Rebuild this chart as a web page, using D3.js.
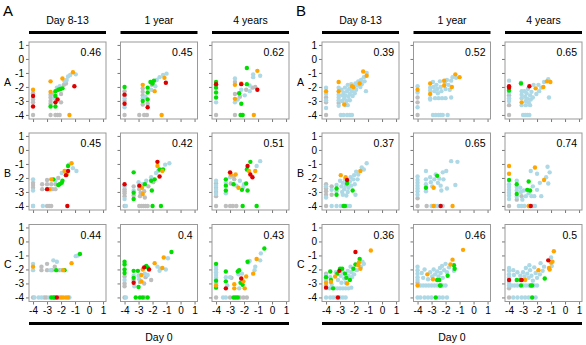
<!DOCTYPE html>
<html>
<head>
<meta charset="utf-8">
<script src="https://cdn.jsdelivr.net/npm/d3@7"></script>
<style>
  body { margin: 0; background: #fff; }
  svg { display: block; font-family: "Liberation Sans", Arial, sans-serif; }
</style>
</head>
<body>
<svg id="chart" width="586" height="345"></svg>
<script>
// labels
const panelLetters = ["A", "B"];
const rowLabels = ["A", "B", "C"];
const colLabels = ["Day 8-13", "1 year", "4 years"];
const xTicks = [-4, -3, -2, -1, 0, 1];
const yTicks = [1, 0, -1, -2, -3, -4];
const xTitle = "Day 0";

// correlation shown in each panel (rows A,B,C x columns)
const corrA = [[0.46, 0.45, 0.62], [0.45, 0.42, 0.51], [0.44, 0.4, 0.43]];
const corrB = [[0.39, 0.52, 0.65], [0.37, 0.65, 0.74], [0.36, 0.46, 0.5]];

// point colours: g grey, b light blue, n green, o orange, r red
const colorKeys = ["g", "b", "n", "o", "r"];
const colorVals = ["#bebebe", "#add8e6", "#00dd00", "#ffa500", "#dd0000"];

// ---- panel A points [day0, later, colour] ----
const A_rowA_d8 = [[-4,-2.2,"o"],[-4,-2.45,"g"],[-4,-2.65,"r"],[-4,-2.9,"g"],[-4,-3.1,"g"],[-4,-3.4,"r"],[-4,-4,"g"],
  [-2.75,-1.6,"o"],[-2.75,-2.35,"o"],[-2.75,-2.55,"g"],[-2.75,-2.75,"g"],[-2.75,-3.0,"g"],[-2.75,-3.2,"g"],[-2.75,-3.4,"n"],[-2.75,-4,"g"],
  [-2.4,-2.3,"n"],[-2.4,-2.65,"n"],[-2.4,-3.1,"r"],[-2.4,-3.4,"n"],[-2.4,-4,"g"],[-2.25,-4,"g"],[-2.1,-4,"g"],
  [-2.2,-2.2,"n"],[-2.05,-2.15,"n"],[-1.9,-2.1,"n"],[-2.25,-2.9,"r"],[-2.0,-3.1,"g"],[-2.5,-2.8,"b"],[-2.5,-2.5,"g"],
  [-1.9,-1.4,"o"],[-1.75,-1.6,"b"],[-1.6,-1.5,"b"],[-1.5,-1.25,"b"],[-1.35,-1.15,"b"],[-1.65,-1.75,"g"],[-1.8,-1.85,"g"],
  [-0.95,-1.1,"b"],[-1.15,-0.95,"o"],[-1.05,-1.95,"r"],[-1.4,-4,"o"],[-2.1,-1.95,"b"],[-2.3,-2.05,"b"],[-2.0,-2.5,"g"]];
const A_rowA_1y = [[-4,-2.0,"n"],[-4,-2.3,"g"],[-4,-2.55,"r"],[-4,-2.8,"b"],[-4,-3.2,"r"],[-4,-3.45,"b"],[-4,-4,"g"],[-4,-2.6,"g"],[-4,-3.0,"g"],
  [-2.7,-1.85,"o"],[-2.7,-2.1,"g"],[-2.7,-2.35,"g"],[-2.7,-2.6,"g"],[-2.7,-3.0,"n"],[-2.7,-3.25,"g"],[-2.7,-2.8,"b"],
  [-2.35,-2.05,"n"],[-2.35,-2.4,"n"],[-2.35,-2.9,"n"],[-2.35,-3.45,"r"],[-2.35,-3.2,"g"],[-2.5,-2.7,"b"],
  [-2.15,-1.65,"n"],[-2.0,-1.75,"n"],[-2.05,-1.85,"g"],[-1.85,-2.3,"o"],[-1.9,-1.55,"n"],[-1.7,-1.5,"b"],[-1.5,-1.3,"b"],
  [-1.25,-1.15,"b"],[-1.0,-1.05,"b"],[-1.15,-1.35,"o"],[-1.05,-1.7,"r"],[-1.8,-1.95,"b"],[-2.1,-2.2,"b"],
  [-2.95,-4,"g"],[-2.6,-4,"g"],[-2.4,-4,"g"],[-1.35,-4,"o"]];
const A_rowA_4y = [[-4,-1.65,"n"],[-4,-1.8,"r"],[-4,-2.05,"n"],[-4,-2.4,"n"],[-4,-2.75,"n"],[-4,-3.1,"b"],[-4,-1.9,"b"],[-4,-4,"g"],
  [-2.65,-1.4,"b"],[-2.65,-1.65,"g"],[-2.65,-1.85,"o"],[-2.65,-2.5,"g"],[-2.65,-2.85,"o"],[-2.65,-3.1,"b"],[-2.65,-4,"g"],
  [-2.2,-1.75,"o"],[-2.2,-1.8,"r"],[-2.35,-2.45,"n"],[-2.2,-2.2,"b"],[-2.2,-3.2,"n"],[-2.25,-4,"n"],[-2.1,-4,"n"],[-2.45,-2.9,"b"],[-2.3,-2.7,"g"],
  [-1.8,-0.65,"n"],[-1.8,-1.8,"n"],[-1.85,-2.2,"g"],[-1.95,-2.6,"b"],[-1.6,-2.3,"b"],[-1.6,-1.9,"b"],
  [-1.35,-1.1,"b"],[-1.35,-1.3,"b"],[-1.4,-2.05,"g"],[-1.3,-4,"o"],[-1.05,-0.85,"o"],[-0.85,-1.2,"b"],[-1.05,-2.2,"r"],[-1.2,-2.0,"g"]];
const A_rowB_d8 = [[-4,-2.1,"b"],[-4,-2.35,"g"],[-4,-2.5,"g"],[-4,-2.7,"g"],[-4,-2.9,"b"],[-4,-4,"g"],
  [-3.35,-2.45,"g"],[-3.35,-2.8,"g"],[-3.0,-2.15,"g"],[-3.0,-2.45,"g"],[-3.0,-2.8,"r"],[-2.85,-2.8,"o"],[-2.75,-2.8,"g"],[-2.6,-2.8,"g"],[-2.4,-2.8,"g"],
  [-2.7,-2.1,"o"],[-2.55,-2.1,"n"],[-2.7,-2.45,"g"],[-2.4,-2.45,"g"],[-2.4,-2.2,"b"],[-2.2,-2.0,"g"],[-2.1,-2.45,"n"],[-1.95,-2.35,"n"],[-1.9,-2.2,"n"],[-2.2,-2.5,"n"],
  [-1.95,-1.65,"b"],[-1.75,-1.5,"o"],[-1.65,-1.8,"r"],[-1.6,-1.75,"o"],[-1.5,-1.15,"n"],[-1.5,-1.5,"r"],[-1.45,-1.05,"b"],[-1.25,-0.95,"o"],[-1.15,-1.3,"b"],[-0.9,-1.5,"b"],
  [-4,-4,"b"],[-3.3,-4,"b"],[-3.0,-4,"g"],[-2.85,-4,"g"],[-2.7,-4,"g"],[-1.55,-4,"r"]];
const A_rowB_1y = [[-4,-2.45,"r"],[-4,-2.6,"b"],[-4,-2.8,"g"],[-4,-2.95,"g"],[-4,-3.1,"g"],[-4,-3.3,"g"],[-4,-3.5,"b"],[-4,-4,"g"],
  [-3.35,-1.6,"n"],[-3.35,-2.6,"g"],[-3.35,-2.9,"b"],[-3.35,-3.05,"n"],[-3.35,-3.25,"g"],[-3.35,-3.5,"n"],
  [-2.95,-2.55,"r"],[-3.0,-2.3,"b"],[-2.95,-2.8,"g"],[-2.85,-3.05,"g"],[-2.9,-3.3,"g"],[-2.75,-2.7,"o"],[-2.7,-3.15,"o"],[-2.7,-2.45,"b"],[-2.6,-2.95,"g"],[-2.55,-3.4,"g"],
  [-2.55,-2.45,"n"],[-2.45,-2.2,"b"],[-2.3,-2.6,"g"],[-2.1,-2.2,"n"],[-2.1,-1.95,"b"],[-1.85,-2.1,"n"],[-2.05,-2.9,"n"],[-1.95,-2.3,"g"],
  [-1.75,-1.65,"b"],[-1.5,-1.4,"n"],[-1.6,-1.5,"b"],[-1.65,-1.15,"o"],[-1.65,-0.85,"r"],[-1.3,-1.5,"o"],[-1.25,-1.4,"n"],[-1.5,-1.9,"r"],[-1.1,-1.05,"b"],[-0.8,-0.95,"b"],
  [-3.9,-4,"b"],[-2.95,-4,"g"],[-2.8,-4,"g"],[-2.65,-4,"g"],[-2.5,-4,"g"],[-2.35,-4,"g"],[-2.0,-4,"n"],[-1.4,-4,"n"]];
const A_rowB_4y = [[-4,-2.2,"b"],[-4,-2.4,"g"],[-4,-2.55,"b"],[-4,-2.7,"g"],[-4,-2.85,"b"],[-4,-3.0,"g"],[-4,-3.15,"b"],[-4,-3.3,"g"],[-4,-4,"g"],
  [-3.3,-2.1,"n"],[-3.3,-2.35,"b"],[-3.3,-2.55,"n"],[-3.3,-2.9,"n"],[-3.3,-3.1,"b"],
  [-3.0,-1.6,"r"],[-2.95,-1.75,"o"],[-3.0,-1.95,"b"],[-2.95,-2.4,"g"],[-2.75,-1.9,"g"],[-2.6,-1.75,"o"],[-2.7,-2.1,"g"],[-2.75,-2.45,"n"],[-2.55,-2.55,"b"],[-2.4,-2.7,"o"],[-2.3,-2.2,"b"],[-2.15,-2.85,"n"],[-2.0,-2.45,"b"],
  [-1.8,-1.4,"n"],[-1.75,-1.15,"r"],[-1.65,-1.5,"o"],[-1.55,-0.85,"n"],[-1.55,-1.75,"r"],[-1.4,-1.95,"r"],[-1.2,-1.5,"o"],[-0.85,-0.8,"b"],[-1.1,-1.15,"b"],[-1.85,-2.4,"n"],[-1.75,-2.9,"n"],[-2.05,-2.65,"b"],
  [-3.3,-4,"g"],[-3.0,-4,"g"],[-2.8,-4,"g"],[-2.55,-4,"g"],[-2.1,-4,"n"],[-1.1,-4,"n"]];
const A_rowC_d8 = [[-4,-1.6,"b"],[-4,-1.8,"o"],[-4,-2.05,"b"],[-4,-4,"g"],
  [-3.4,-1.8,"g"],[-3.4,-2.05,"g"],[-3.0,-1.6,"g"],[-3.0,-2.05,"g"],
  [-2.55,-1.35,"b"],[-2.3,-1.45,"b"],[-2.45,-1.8,"g"],[-2.65,-2.05,"g"],[-2.75,-2.05,"b"],[-2.35,-2.05,"n"],[-2.1,-2.05,"g"],[-1.95,-2.05,"b"],[-1.85,-2.05,"o"],[-1.75,-2.05,"n"],
  [-1.25,-1.55,"o"],[-0.95,-1.05,"b"],[-0.8,-1.0,"b"],[-0.65,-0.9,"n"],
  [-3.9,-4,"b"],[-3.6,-4,"b"],[-3.4,-4,"b"],[-3.2,-4,"g"],[-3.05,-4,"g"],[-2.85,-4,"b"],[-2.7,-4,"n"],[-2.55,-4,"n"],[-2.45,-4,"n"],[-2.3,-4,"r"],[-2.15,-4,"g"],[-2.0,-4,"o"],[-1.85,-4,"o"],[-1.65,-4,"o"],[-1.5,-4,"o"],[-1.4,-4,"b"]];
const A_rowC_1y = [[-4,-1.45,"n"],[-4,-1.65,"n"],[-4,-2.0,"n"],[-4,-2.25,"n"],[-4,-2.5,"g"],[-4,-2.75,"b"],[-4,-3.0,"g"],[-4,-3.2,"g"],[-4,-4,"g"],
  [-3.35,-2.1,"n"],[-3.35,-2.45,"b"],[-3.35,-2.6,"n"],[-3.35,-2.75,"g"],[-3.35,-2.95,"r"],[-3.3,-3.2,"b"],[-3.0,-3.25,"n"],
  [-3.05,-2.1,"n"],[-3.0,-2.45,"b"],[-2.95,-2.7,"b"],[-2.9,-2.9,"g"],[-2.8,-2.85,"o"],[-2.8,-2.4,"o"],[-2.7,-2.0,"o"],[-2.6,-1.85,"r"],[-2.45,-1.75,"n"],[-2.35,-1.85,"n"],[-2.25,-2.0,"r"],[-2.55,-2.3,"b"],[-2.5,-2.55,"g"],[-2.35,-2.4,"b"],[-2.1,-2.75,"g"],[-2.6,-3.0,"g"],
  [-1.85,-1.55,"o"],[-1.65,-1.8,"b"],[-1.45,-1.95,"b"],[-1.3,-1.9,"o"],[-1.5,-2.1,"b"],[-1.2,-1.15,"o"],[-0.9,-1.2,"b"],[-1.05,-2.0,"b"],[-0.65,-0.75,"n"],
  [-3.9,-4,"b"],[-3.2,-4,"n"],[-2.9,-4,"n"],[-2.7,-4,"n"],[-2.55,-4,"g"],[-2.35,-4,"n"]];
const A_rowC_4y = [[-4,-1.6,"n"],[-4,-1.8,"b"],[-4,-2.0,"b"],[-4,-2.2,"b"],[-4,-2.4,"b"],[-4,-2.6,"b"],[-4,-2.8,"n"],[-4,-3.0,"b"],[-4,-3.15,"o"],[-4,-3.3,"n"],[-4,-4,"g"],
  [-3.3,-2.15,"n"],[-3.3,-2.55,"b"],[-3.3,-2.85,"n"],[-3.3,-3.35,"r"],[-3.2,-3.15,"b"],[-3.0,-2.55,"b"],[-2.9,-2.6,"g"],[-2.7,-3.05,"o"],[-2.7,-3.35,"o"],[-2.45,-2.15,"n"],[-2.35,-2.05,"n"],[-2.4,-2.35,"b"],[-2.2,-2.65,"r"],[-2.25,-2.95,"n"],[-2.1,-3.1,"n"],[-2.05,-2.85,"o"],[-2.15,-2.3,"b"],[-2.35,-3.35,"b"],[-1.95,-3.35,"o"],
  [-1.75,-1.45,"n"],[-1.7,-1.5,"b"],[-1.6,-1.4,"b"],[-1.85,-2.5,"o"],[-1.35,-2.3,"o"],[-1.25,-2.05,"b"],[-1.1,-1.25,"o"],[-0.85,-1.35,"b"],[-0.8,-0.85,"b"],[-0.55,-0.5,"n"],[-1.2,-1.8,"b"],
  [-3.5,-4,"b"],[-3.3,-4,"b"],[-3.0,-4,"g"],[-2.75,-4,"n"],[-2.6,-4,"n"],[-2.45,-4,"n"],[-2.3,-4,"g"],[-2.05,-4,"g"],[-1.8,-4,"g"]];

// ---- panel B points ----
const B_rowA_d8 = [[-4,-2.05,"b"],[-4,-2.3,"o"],[-4,-2.5,"b"],[-4,-2.75,"g"],[-4,-2.95,"b"],[-4,-3.1,"g"],[-4,-3.5,"b"],[-4,-4,"g"],
  [-3.1,-1.65,"o"],[-3.1,-2.3,"o"],[-3.1,-2.05,"b"],[-3.1,-2.55,"b"],[-3.1,-2.75,"b"],[-3.1,-2.95,"b"],[-3.1,-3.15,"g"],[-3.1,-3.35,"b"],
  [-2.9,-2.2,"b"],[-2.85,-2.6,"b"],[-2.85,-3.0,"b"],[-2.75,-2.4,"b"],[-2.7,-2.8,"b"],[-2.7,-3.25,"o"],[-2.65,-2.05,"b"],[-2.6,-2.6,"b"],[-2.55,-3.0,"b"],[-2.5,-2.3,"b"],[-2.45,-1.85,"b"],[-2.4,-2.7,"b"],[-2.35,-2.15,"b"],[-2.3,-2.5,"b"],[-2.3,-2.95,"b"],[-2.2,-1.8,"b"],[-2.15,-2.3,"b"],[-2.1,-2.65,"b"],[-2.05,-2.0,"o"],[-2.15,-1.95,"o"],[-2.0,-2.1,"b"],[-1.95,-2.45,"b"],[-1.9,-1.75,"b"],[-1.85,-2.2,"b"],[-1.75,-1.9,"b"],[-1.7,-1.6,"b"],[-1.6,-1.75,"o"],[-1.55,-2.0,"b"],[-1.5,-1.5,"b"],[-1.45,-1.8,"b"],[-1.35,-0.9,"o"],[-1.3,-1.3,"b"],[-1.25,-1.6,"b"],[-1.1,-1.2,"o"],[-1.1,-1.0,"b"],[-1.15,-2.3,"b"],[-2.6,-3.3,"b"],[-2.45,-3.3,"b"],
  [-2.95,-4,"b"],[-2.75,-4,"b"],[-2.5,-4,"b"],[-2.3,-4,"b"],[-2.15,-4,"b"]];
const B_rowA_1y = [[-4,-1.95,"b"],[-4,-2.2,"o"],[-4,-2.4,"b"],[-4,-2.75,"g"],[-4,-3.1,"g"],[-4,-3.45,"b"],[-4,-4,"g"],
  [-3.1,-1.75,"o"],[-3.1,-2.5,"o"],[-3.1,-2.05,"b"],[-3.1,-2.25,"b"],[-3.1,-2.8,"b"],[-3.1,-2.9,"b"],
  [-2.9,-1.65,"b"],[-2.85,-2.0,"b"],[-2.8,-2.3,"b"],[-2.75,-2.8,"b"],[-2.65,-1.85,"b"],[-2.6,-2.15,"b"],[-2.55,-2.45,"b"],[-2.5,-2.8,"b"],[-2.4,-1.6,"b"],[-2.35,-2.0,"b"],[-2.3,-2.3,"b"],[-2.25,-2.8,"b"],[-2.1,-1.55,"o"],[-2.1,-1.9,"o"],[-2.05,-1.7,"b"],[-2.0,-2.15,"b"],[-1.9,-1.5,"b"],[-1.8,-1.85,"b"],[-1.7,-2.2,"b"],[-1.55,-2.0,"o"],[-1.6,-1.55,"b"],[-1.5,-1.3,"b"],[-1.3,-1.1,"o"],[-1.25,-1.35,"b"],[-1.0,-1.3,"o"],[-1.6,-2.75,"b"],[-2.0,-2.8,"b"],
  [-2.9,-4,"b"],[-2.7,-4,"b"],[-2.5,-4,"b"],[-2.35,-4,"b"],[-2.2,-4,"b"],[-1.85,-4,"b"]];
const B_rowA_4y = [[-4,-1.55,"b"],[-4,-1.95,"r"],[-4,-2.05,"r"],[-4,-2.25,"n"],[-4,-2.4,"b"],[-4,-2.6,"g"],[-4,-2.8,"b"],[-4,-3.0,"b"],[-4,-3.3,"g"],[-4,-4,"g"],
  [-3.15,-1.75,"n"],[-3.15,-1.7,"b"],[-3.1,-3.1,"o"],[-3.1,-2.3,"b"],[-3.1,-2.55,"b"],[-3.1,-2.8,"b"],[-3.1,-3.3,"b"],
  [-2.9,-2.3,"b"],[-2.85,-2.7,"b"],[-2.8,-3.0,"b"],[-2.75,-2.45,"b"],[-2.7,-2.85,"b"],[-2.65,-2.15,"b"],[-2.6,-3.1,"b"],[-2.55,-1.95,"r"],[-2.5,-2.6,"b"],[-2.45,-2.9,"b"],[-2.4,-2.35,"b"],[-2.3,-2.75,"b"],[-2.25,-1.85,"b"],[-2.1,-2.1,"o"],[-2.05,-2.5,"b"],[-1.9,-1.85,"b"],[-1.85,-2.3,"b"],[-1.7,-2.05,"b"],[-1.55,-2.0,"o"],[-1.5,-1.65,"b"],[-1.3,-1.6,"o"],[-1.2,-1.45,"b"],[-1.05,-1.65,"o"],[-1.15,-2.75,"b"],[-2.8,-3.3,"b"],[-2.5,-3.3,"b"],
  [-3.0,-4,"b"],[-2.85,-4,"b"],[-2.7,-4,"b"],[-2.55,-4,"b"]];
const B_rowB_d8 = [[-4,-2.45,"g"],[-4,-2.6,"b"],[-4,-2.75,"g"],[-4,-2.95,"g"],[-4,-3.2,"g"],[-4,-3.4,"b"],[-4,-4,"g"],
  [-3.6,-2.6,"g"],[-3.6,-2.85,"b"],[-3.6,-3.2,"g"],[-3.6,-4,"b"],
  [-3.25,-2.75,"n"],[-3.25,-3.2,"n"],[-3.25,-2.5,"b"],[-3.25,-2.95,"b"],[-3.25,-4,"b"],
  [-3.0,-2.2,"b"],[-2.95,-1.8,"o"],[-2.9,-2.6,"b"],[-2.85,-3.0,"b"],[-2.8,-2.35,"b"],[-2.7,-2.8,"b"],[-2.65,-2.1,"b"],[-2.6,-1.95,"o"],[-2.6,-2.55,"b"],[-2.5,-2.15,"r"],[-2.5,-2.4,"n"],[-2.45,-3.0,"b"],[-2.4,-2.7,"b"],[-2.3,-2.25,"b"],[-2.25,-1.95,"b"],[-2.2,-2.55,"b"],[-2.1,-2.9,"n"],[-2.05,-2.1,"b"],[-2.0,-1.8,"b"],[-1.95,-2.45,"b"],[-1.85,-1.55,"b"],[-1.75,-2.1,"b"],[-1.7,-1.75,"b"],[-1.55,-1.5,"o"],[-1.45,-1.25,"b"],[-1.3,-1.4,"b"],[-1.1,-0.95,"b"],[-2.8,-3.2,"b"],[-2.55,-3.25,"b"],[-1.9,-3.2,"b"],
  [-2.95,-4,"b"],[-2.75,-4,"n"],[-2.65,-4,"n"],[-2.5,-4,"b"],[-2.3,-4,"b"]];
const B_rowB_1y = [[-4,-1.9,"b"],[-4,-2.15,"b"],[-4,-2.35,"b"],[-4,-2.55,"b"],[-4,-2.75,"b"],[-4,-2.95,"b"],[-4,-3.2,"b"],[-4,-3.45,"g"],[-4,-4,"g"],
  [-3.4,-1.5,"b"],[-3.4,-2.1,"b"],[-3.4,-2.45,"b"],[-3.4,-2.7,"n"],[-3.4,-2.95,"b"],[-3.35,-4,"g"],
  [-3.1,-1.95,"b"],[-3.05,-2.3,"b"],[-2.95,-2.6,"b"],[-2.85,-2.7,"o"],[-2.8,-2.1,"b"],[-2.7,-1.75,"b"],[-2.6,-1.85,"n"],[-2.55,-2.35,"b"],[-2.45,-2.05,"b"],[-2.35,-2.55,"b"],[-2.2,-1.6,"b"],[-2.15,-2.1,"b"],[-1.95,-1.5,"b"],[-1.9,-2.75,"b"],[-1.6,-0.8,"b"],[-1.15,-0.85,"b"],[-1.3,-2.5,"b"],[-2.3,-2.9,"b"],
  [-3.0,-4,"b"],[-2.85,-4,"o"],[-2.7,-4,"b"],[-2.55,-4,"b"],[-2.35,-4,"r"],[-2.2,-4,"b"],[-1.5,-4,"o"]];
const B_rowB_4y = [[-4,-1.15,"o"],[-4,-1.7,"o"],[-4,-2.15,"n"],[-4,-2.45,"b"],[-4,-2.65,"b"],[-4,-2.85,"b"],[-4,-3.05,"b"],[-4,-3.25,"b"],[-4,-3.5,"b"],[-4,-4,"g"],
  [-3.45,-2.2,"b"],[-3.45,-2.45,"n"],[-3.45,-2.65,"b"],[-3.45,-2.9,"b"],[-3.45,-3.15,"n"],[-3.45,-3.35,"b"],[-3.45,-3.55,"g"],
  [-3.2,-2.7,"b"],[-3.15,-3.0,"b"],[-3.1,-3.3,"g"],[-3.05,-3.55,"b"],[-2.95,-2.9,"b"],[-2.8,-3.3,"b"],[-2.7,-2.85,"n"],[-2.6,-2.25,"n"],[-2.6,-3.1,"b"],[-2.5,-2.9,"n"],[-2.45,-1.5,"b"],[-2.4,-3.3,"b"],[-2.3,-2.6,"b"],[-2.15,-1.25,"o"],[-2.2,-3.3,"b"],[-2.0,-1.7,"b"],[-2.0,-2.85,"b"],[-1.8,-2.35,"b"],[-1.7,-3.3,"b"],[-1.5,-2.15,"o"],[-1.35,-1.95,"b"],[-1.2,-2.4,"b"],[-1.1,-1.6,"b"],[-1.25,-1.2,"b"],
  [-3.3,-4,"b"],[-3.1,-4,"b"],[-2.9,-4,"b"],[-2.6,-4,"o"],[-2.45,-4,"r"],[-2.3,-4,"b"],[-2.15,-4,"b"]];
const B_rowC_d8 = [[-4,-2.3,"g"],[-4,-2.45,"b"],[-4,-2.55,"n"],[-4,-2.75,"b"],[-4,-2.95,"o"],[-4,-3.15,"g"],[-4,-3.3,"r"],[-4,-4,"b"],
  [-3.7,-2.15,"n"],[-3.7,-2.55,"b"],[-3.65,-2.75,"n"],[-3.65,-2.9,"o"],[-3.6,-3.1,"b"],[-3.5,-3.35,"n"],
  [-3.35,-2.5,"o"],[-3.3,-2.2,"b"],[-3.2,-2.3,"n"],[-3.15,-2.75,"b"],[-3.05,-2.1,"r"],[-3.0,-1.95,"n"],[-2.95,-2.45,"b"],[-2.9,-2.95,"b"],[-2.85,-1.95,"n"],[-2.8,-2.2,"b"],[-2.7,-2.65,"b"],[-2.65,-2.3,"n"],[-2.6,-2.95,"b"],[-2.55,-2.6,"n"],[-2.5,-3.0,"o"],[-2.45,-2.1,"b"],[-2.4,-2.45,"b"],[-2.3,-2.75,"n"],[-2.25,-1.8,"b"],[-2.2,-2.2,"b"],[-2.15,-2.55,"b"],[-2.05,-1.95,"n"],[-2.0,-2.35,"b"],[-1.9,-1.65,"n"],[-1.9,-0.75,"r"],[-1.8,-2.05,"b"],[-1.7,-1.7,"o"],[-1.65,-1.5,"o"],[-1.6,-1.25,"n"],[-1.55,-1.95,"o"],[-1.5,-1.8,"b"],[-1.4,-1.45,"b"],[-1.3,-1.6,"b"],[-0.8,-0.65,"o"],
  [-3.75,-3.35,"b"],[-3.4,-3.35,"b"],[-3.2,-3.35,"b"],[-3.0,-3.35,"b"],[-2.8,-3.35,"b"],[-2.6,-3.35,"b"],[-2.4,-3.35,"b"],[-2.2,-3.3,"b"],
  [-3.7,-4,"b"],[-3.5,-4,"b"],[-3.3,-4,"b"],[-3.15,-4,"r"],[-3.0,-4,"b"],[-2.8,-4,"b"],[-2.6,-4,"b"]];
const B_rowC_1y = [[-4,-1.8,"b"],[-4,-2.05,"b"],[-4,-2.3,"b"],[-4,-2.55,"b"],[-4,-2.75,"b"],[-4,-2.95,"g"],[-4,-3.15,"o"],[-4,-4,"b"],
  [-3.7,-2.25,"b"],[-3.6,-2.6,"b"],[-3.5,-2.0,"b"],[-3.3,-2.35,"o"],[-3.25,-2.7,"b"],[-3.1,-2.2,"b"],[-2.95,-2.5,"b"],[-2.9,-2.7,"o"],[-2.85,-2.0,"b"],[-2.75,-2.35,"b"],[-2.6,-2.75,"n"],[-2.6,-2.15,"b"],[-2.5,-2.5,"b"],[-2.45,-2.75,"n"],[-2.4,-1.9,"b"],[-2.35,-2.25,"b"],[-2.25,-1.75,"b"],[-2.2,-2.6,"b"],[-2.1,-2.05,"b"],[-2.0,-1.6,"b"],[-1.85,-2.45,"n"],[-1.9,-2.2,"b"],[-1.75,-1.85,"b"],[-1.65,-1.65,"o"],[-1.5,-1.3,"o"],[-1.4,-1.7,"n"],[-1.35,-1.95,"n"],[-1.4,-2.1,"b"],[-0.75,-0.6,"o"],
  [-3.8,-3.15,"b"],[-3.6,-3.15,"b"],[-3.4,-3.15,"b"],[-3.2,-3.15,"b"],[-3.0,-3.15,"b"],[-2.8,-3.15,"b"],[-2.6,-3.15,"b"],[-2.4,-3.15,"n"],[-2.35,-3.15,"n"],[-2.2,-3.15,"b"],[-2.0,-3.15,"b"],
  [-3.8,-4,"b"],[-3.5,-4,"b"],[-3.25,-4,"b"],[-3.0,-4,"b"],[-2.7,-4,"n"],[-2.45,-4,"b"],[-2.2,-4,"b"],[-1.9,-4,"b"]];
const B_rowC_4y = [[-4,-2.75,"r"],[-4,-1.9,"b"],[-4,-2.1,"b"],[-4,-2.35,"b"],[-4,-2.55,"b"],[-4,-2.95,"b"],[-4,-3.15,"b"],[-4,-3.35,"g"],[-4,-4,"g"],
  [-3.7,-2.05,"b"],[-3.65,-2.4,"b"],[-3.45,-2.75,"n"],[-3.4,-2.2,"b"],[-3.2,-2.75,"n"],[-3.1,-2.75,"r"],[-2.85,-2.75,"o"],[-3.15,-3.15,"n"],[-3.2,-2.45,"b"],[-3.0,-2.2,"b"],[-2.9,-2.5,"b"],[-2.8,-1.9,"b"],[-2.7,-2.3,"b"],[-2.6,-2.6,"b"],[-2.55,-1.7,"b"],[-2.5,-2.05,"b"],[-2.45,-3.15,"n"],[-2.35,-3.15,"n"],[-2.4,-2.45,"b"],[-2.3,-2.8,"b"],[-2.2,-1.85,"b"],[-2.1,-2.25,"b"],[-2.0,-2.6,"b"],[-1.9,-2.05,"o"],[-1.8,-2.35,"b"],[-1.75,-1.55,"b"],[-1.6,-2.1,"b"],[-1.45,-2.65,"n"],[-1.5,-1.8,"b"],[-1.2,-1.35,"r"],[-1.15,-1.9,"o"],[-1.1,-2.0,"o"],[-1.0,-1.5,"o"],[-0.9,-1.45,"o"],[-0.95,-1.75,"b"],[-1.0,-1.15,"b"],[-0.8,-0.7,"o"],
  [-3.8,-3.15,"b"],[-3.6,-3.15,"b"],[-3.4,-3.15,"b"],[-3.0,-3.15,"b"],[-2.8,-3.15,"b"],[-2.6,-3.15,"b"],[-2.2,-3.15,"b"],[-2.0,-3.15,"b"],
  [-3.7,-4,"b"],[-3.4,-4,"b"],[-3.1,-4,"b"],[-2.85,-4,"b"],[-2.6,-4,"b"],[-2.35,-4,"n"],[-2.1,-4,"b"]];

const gridA = [[A_rowA_d8, A_rowA_1y, A_rowA_4y], [A_rowB_d8, A_rowB_1y, A_rowB_4y], [A_rowC_d8, A_rowC_1y, A_rowC_4y]];
const gridB = [[B_rowA_d8, B_rowA_1y, B_rowA_4y], [B_rowB_d8, B_rowB_1y, B_rowB_4y], [B_rowC_d8, B_rowC_1y, B_rowC_4y]];

const blocks = [
  { letter: panelLetters[0], grid: gridA, corr: corrA, dx: 0 },
  { letter: panelLetters[1], grid: gridB, corr: corrB, dx: 293 }
];

// layout
const SIZE = 77;
const colLeft = [29, 120.5, 212];
const rowTop = [42, 133, 224.5];

const svg = d3.select("#chart");
const color = d3.scaleOrdinal().domain(colorKeys).range(colorVals);
const x = d3.scaleLinear().domain([-4.29, 1.21]).range([0, SIZE]);
const y = d3.scaleLinear().domain([-4.29, 1.21]).range([SIZE, 0]);
const fmt = d => String(d);

function styleAxis(sel) {
  sel.select(".domain").remove();
  sel.selectAll(".tick line").attr("stroke", "#777");
  sel.selectAll(".tick text").attr("fill", "#000")
    .style("font-size", "10px").style("font-family", "Liberation Sans, Arial, sans-serif");
}

blocks.forEach(blk => {
  const gb = svg.append("g").attr("transform", `translate(${blk.dx},0)`);

  gb.append("text").attr("x", 3).attr("y", 16)
    .style("font-size", "15px").text(blk.letter);

  // column headers with thick bars
  colLabels.forEach((lab, c) => {
    gb.append("text")
      .attr("x", colLeft[c] + SIZE / 2).attr("y", 24)
      .attr("text-anchor", "middle").style("font-size", "10.5px").text(lab);
    gb.append("rect")
      .attr("x", colLeft[c]).attr("y", 31)
      .attr("width", SIZE).attr("height", 3).attr("fill", "#000");
  });

  blk.grid.forEach((row, r) => {
    gb.append("text")
      .attr("x", 4).attr("y", rowTop[r] + SIZE / 2 + 5)
      .style("font-size", "10.5px").text(rowLabels[r]);

    row.forEach((pts, c) => {
      const p = gb.append("g").attr("transform", `translate(${colLeft[c]},${rowTop[r]})`);

      const yAxis = d3.axisLeft(y).tickValues(yTicks).tickSize(3).tickPadding(2)
        .tickFormat(c === 0 ? fmt : () => "");
      p.append("g").call(yAxis).call(styleAxis);

      const xAxis = d3.axisBottom(x).tickValues(xTicks).tickSize(3).tickPadding(2)
        .tickFormat(r === 2 ? fmt : () => "");
      p.append("g").attr("transform", `translate(0,${SIZE})`).call(xAxis).call(styleAxis);

      const sorted = pts.slice().sort((a, b) => colorKeys.indexOf(a[2]) - colorKeys.indexOf(b[2]));
      p.selectAll("circle").data(sorted).enter().append("circle")
        .attr("cx", d => x(d[0])).attr("cy", d => y(d[1]))
        .attr("r", 2.2).attr("fill", d => color(d[2]));

      p.append("rect").attr("width", SIZE).attr("height", SIZE)
        .attr("fill", "none").attr("stroke", "#999").attr("stroke-width", 1);

      p.append("text").attr("x", SIZE - 5).attr("y", 14)
        .attr("text-anchor", "end").style("font-size", "10.5px")
        .text(blk.corr[r][c]);
    });
  });

  // shared x title with bar
  const x0 = colLeft[0], x1 = colLeft[2] + SIZE;
  gb.append("rect").attr("x", x0).attr("y", 322).attr("width", x1 - x0).attr("height", 3).attr("fill", "#000");
  gb.append("text").attr("x", (x0 + x1) / 2).attr("y", 341)
    .attr("text-anchor", "middle").style("font-size", "10.5px").text(xTitle);
});
</script>
</body>
</html>
